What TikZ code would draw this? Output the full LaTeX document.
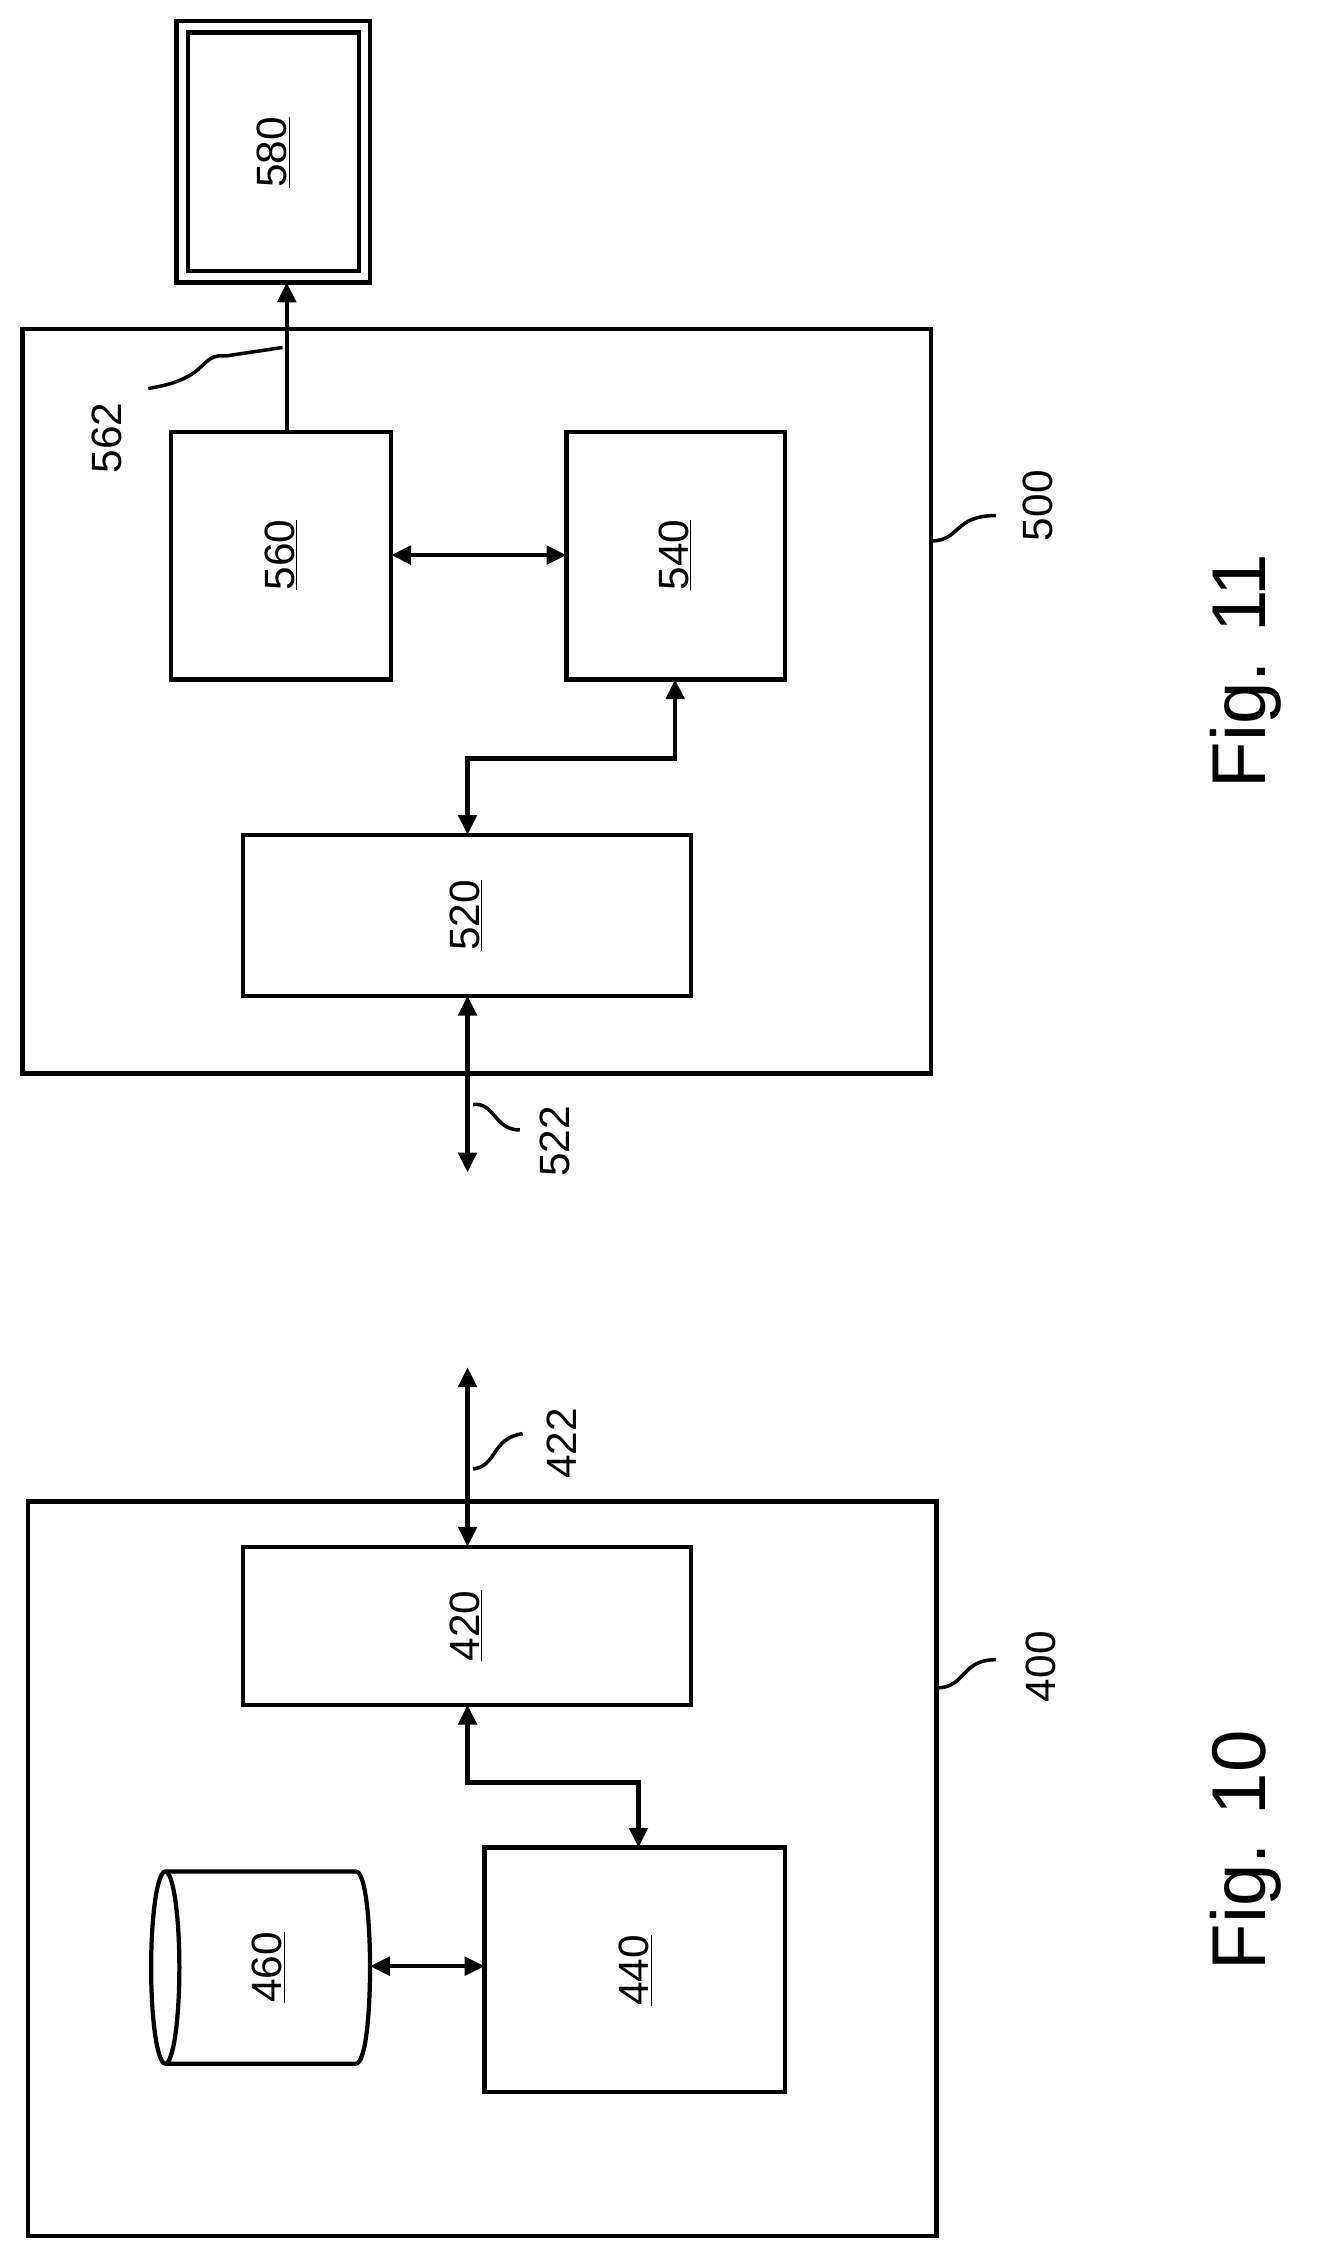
\documentclass[tikz,border=0pt]{standalone}
\usepackage{fontspec}
\setmainfont{Liberation Sans}
\usetikzlibrary{arrows.meta}
\begin{document}
\begin{tikzpicture}[x=1pt,y=-1pt,line width=3pt,
 box/.style={draw,line width=3pt},
 lab/.style={rotate=90,font=\fontsize{30}{30}\selectfont},
 arr/.style={line width=3pt,{Triangle[length=14pt,width=13pt]}-{Triangle[length=14pt,width=13pt]}},
 sarr/.style={line width=3pt,-{Triangle[length=14pt,width=13pt]}},
 sq/.style={line width=2.5pt}]
\useasboundingbox (0,0) rectangle (938,1588);
% Fig 11
\draw[box] (16,233) rectangle (659,760);
\draw[box] (125,15) rectangle (262,200);
\draw[box] (133,23) rectangle (254,192);
\node[lab] (n580) at (193.5,108) {\underline{580}};
\coordinate (c580) at (203,200);
\draw[box] (121,306) rectangle (277,481); \node[lab] (n560) at (199,393) {\underline{560}};
\draw[box] (401,306) rectangle (556,481); \node[lab] (n540) at (478,393) {\underline{540}};
\draw[box] (172,591) rectangle (489,705); \node[lab] (n520) at (330,648) {\underline{520}};
\coordinate (a1) at (277,393); \coordinate (a2) at (401,393);
\draw[arr] (a1) -- (a2);
\coordinate (b1) at (331,591); \coordinate (b2) at (478,481);
\draw[arr] (b1) |- (404,537) -| (b2);
\coordinate (d1) at (331,705); \coordinate (d2) at (331,830);
\draw[arr] (d1) -- (d2);
\coordinate (e1) at (203,306);
\draw[sarr] (e1) -- (c580);
\draw[sq] (335,782) .. controls (350,780) and (350,800) .. (368,800);
\node[lab] (l522) at (393,808) {522};
\draw[sq] (105,275) .. controls (150,268) and (140,250) .. (160,252) -- (200,246);
\node[lab] (l562) at (76,310) {562};
\draw[sq] (659,383) .. controls (680,383) and (675,365) .. (705,365);
\node[lab] (l500) at (735,358) {500};
\node[rotate=90,font=\fontsize{54}{54}\selectfont] (f11) at (882,475) {Fig. 11};
% Fig 10
\draw[box] (20,1063) rectangle (663,1583);
\draw[box] (172,1095) rectangle (489,1207); \node[lab] (n420) at (330,1151) {\underline{420}};
\draw[box] (343,1308) rectangle (556,1481); \node[lab] (n440) at (450,1395) {\underline{440}};
\draw[line width=3pt] (117,1393) ellipse (10 and 68);
\draw[line width=3pt] (117,1325) -- (252,1325) .. controls (265.3,1325) and (265.3,1461) .. (252,1461) -- (117,1461);
\node[lab] (n460) at (190,1393) {\underline{460}};
\coordinate (g1) at (262,1392); \coordinate (g2) at (343,1392);
\draw[arr] (g1) -- (g2);
\coordinate (h1) at (331,1207); \coordinate (h2) at (452,1308);
\draw[arr] (h1) |- (420,1262) -| (h2);
\coordinate (k1) at (331,1095); \coordinate (k2) at (331,968);
\draw[arr] (k1) -- (k2);
\draw[sq] (335,1040) .. controls (352,1038) and (348,1018) .. (370,1015);
\node[lab] (l422) at (398,1022) {422};
\draw[sq] (663,1195) .. controls (684,1195) and (680,1175) .. (705,1175);
\node[lab] (l400) at (737,1180) {400};
\node[rotate=90,font=\fontsize{54}{54}\selectfont] (f10) at (882,1310) {Fig. 10};
\end{tikzpicture}
\end{document}
